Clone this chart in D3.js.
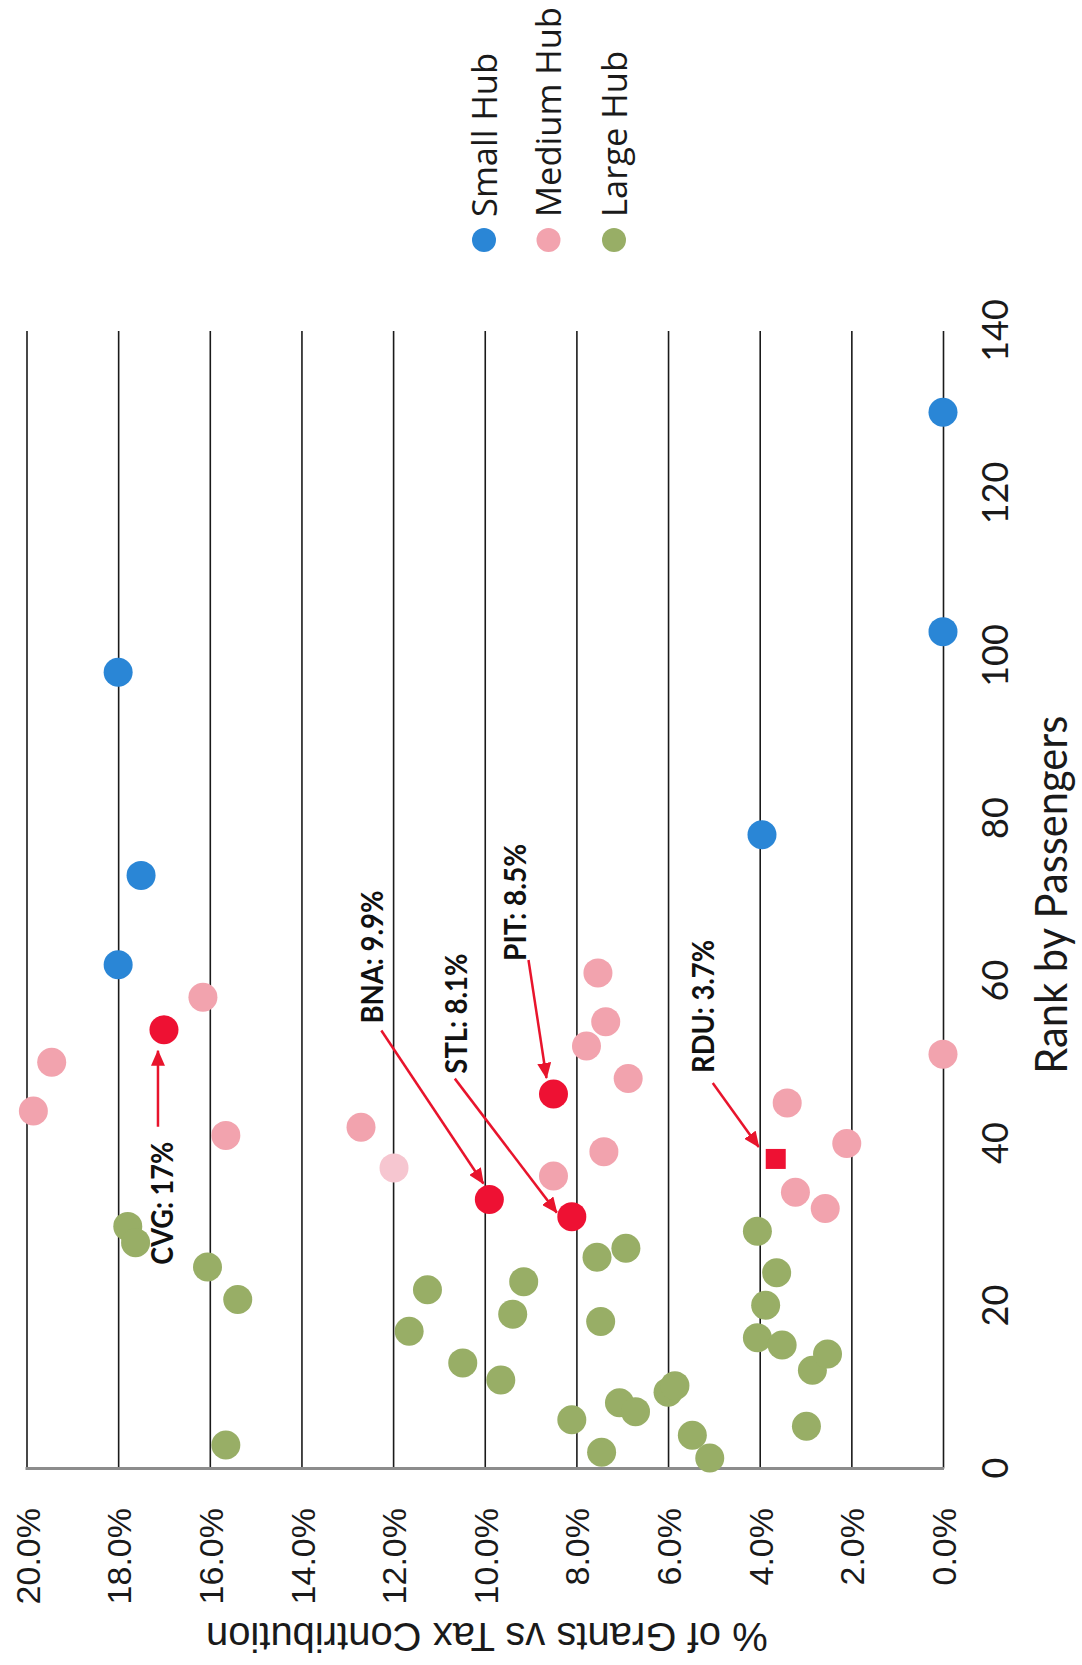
<!DOCTYPE html>
<html>
<script src="https://cdn.jsdelivr.net/npm/d3@7/dist/d3.min.js"></script>
<style>
  body, html {
    padding: 0;
    margin: 0;
    background: #fff;
  }
  svg { display: block; }
</style>
<body>
<svg width="1082" height="1665"></svg>
<script>

  // ---- data: [rank by passengers, % of grants vs tax contribution]

  var smallRank = [98, 73, 62, 78, 103, 130];
  var smallPct  = [18.0, 17.5, 18.0, 3.95, 0.0, 0.0];

  var mediumRank = [44, 50, 58, 41, 42, 36, 61, 55, 52, 48, 39, 45, 34, 32, 40, 51];
  var mediumPct  = [19.85, 19.45, 16.15, 15.65, 12.7, 8.5, 7.53, 7.36, 7.78, 6.87, 7.4, 3.4, 3.22, 2.57, 2.1, 0.0];

  // one medium hub point that prints lighter
  var mediumFadedRank = [37];
  var mediumFadedPct  = [11.98];

  var largeRank = [29.8, 27.8, 24.8, 20.8, 2.9, 16.9, 22.0, 13.0, 10.9, 19.0, 23.0, 6.0, 26.0, 27.1, 18.1,
                   2.0, 8.1, 7.0, 9.4, 10.2, 4.1, 1.3, 29.2, 24.1, 20.1, 16.1, 15.2, 12.1, 14.1, 5.2];
  var largePct  = [17.79, 17.62, 16.05, 15.39, 15.65, 11.65, 11.25, 10.48, 9.65, 9.39, 9.15, 8.1, 7.55, 6.92, 7.47,
                   7.45, 7.06, 6.71, 6.0, 5.85, 5.47, 5.09, 4.05, 3.63, 3.87, 4.05, 3.51, 2.85, 2.52, 2.98];

  var highlightCode  = ['CVG', 'BNA', 'STL', 'PIT', 'RDU'];
  var highlightRank  = [54, 33.1, 31.0, 46.1, 38.1];
  var highlightPct   = [17.0, 9.9, 8.1, 8.5, 3.65];
  var highlightLabel = ['CVG: 17%', 'BNA: 9.9%', 'STL: 8.1%', 'PIT: 8.5%', 'RDU: 3.7%'];
  var squareCodes = ['RDU'];

  var rankTicks = [0, 20, 40, 60, 80, 100, 120, 140];
  var pctTicks  = [0, 2, 4, 6, 8, 10, 12, 14, 16, 18, 20];
  var legendNames = ['Small Hub', 'Medium Hub', 'Large Hub'];

  // ---- layout (the chart is drawn normally and then turned a quarter turn)

  var W = 1665, H = 1082;
  var plot = {left: 196.5, right: 1334, top: 26.5, bottom: 943};
  var R = 14.5;
  var narrow = 'Lato, "Open Sans", sans-serif';

  var colors = {
    small: '#2a86d6',
    medium: '#f2a3ae',
    mediumFaded: '#f6c6d0',
    large: '#98ae66',
    highlight: '#ee1133',
    arrow: '#e8142c'
  };

  // label / arrow offsets from each highlighted point, in chart pixels
  var callout = {
    CVG: {label: [-235, 9], len: 123, from: [-97, -6], to: [-21, -6]},
    BNA: {label: [176, -106], len: 133, from: [169, -108], to: [16, -6]},
    STL: {label: [143, -105], len: 120, from: [138, -117], to: [4, -15]},
    PIT: {label: [133, -27], len: 117, from: [134, -25], to: [16, -7]},
    RDU: {label: [86, -62], len: 133, from: [76, -63], to: [12, -17]}
  };

  var zip = function (xs, ys) { return xs.map(function (d, i) { return {rank: d, pct: ys[i]}; }); };

  var svg = d3.select('svg');
  var g = svg.append('g').attr('transform', 'translate(0,' + W + ') rotate(-90)');

  var x = d3.scaleLinear().domain([0, 140]).range([plot.left, plot.right]);
  var y = d3.scaleLinear().domain([0, 20]).range([plot.bottom, plot.top]);

  var defs = svg.append('defs');
  defs.append('marker')
      .attr('id', 'arrow')
      .attr('markerUnits', 'userSpaceOnUse')
      .attr('viewBox', '0 0 16 14')
      .attr('markerWidth', 16)
      .attr('markerHeight', 14)
      .attr('refX', 15)
      .attr('refY', 7)
      .attr('orient', 'auto')
    .append('path')
      .attr('d', 'M0,0L16,7L0,14Z')
      .attr('fill', colors.arrow);

  // gridlines + percent labels
  var yAxis = g.append('g')
      .attr('transform', 'translate(' + plot.left + ',0)')
      .call(d3.axisLeft(y)
        .tickValues(pctTicks)
        .tickSize(-(plot.right - plot.left))
        .tickPadding(39.5)
        .tickFormat(function (d) { return d.toFixed(1) + '%'; }));

  yAxis.select('.domain').remove();
  yAxis.selectAll('.tick line').attr('stroke', '#1a1a1a').attr('stroke-width', 1.6);
  yAxis.selectAll('.tick text')
      .attr('dy', '0.37em')
      .attr('fill', '#1a1a1a')
      .style('font-family', '"Liberation Sans", Arial, sans-serif')
      .style('font-size', '34px');

  // rank axis
  var xAxis = g.append('g')
      .attr('transform', 'translate(0,' + plot.bottom + ')')
      .call(d3.axisBottom(x).tickValues(rankTicks).tickSize(0));

  xAxis.select('.domain').remove();
  xAxis.selectAll('.tick text')
      .attr('y', 65)
      .attr('dy', 0)
      .attr('fill', '#1a1a1a')
      .style('font-family', narrow)
      .style('font-size', '36px');

  g.append('line')
      .attr('x1', x(0)).attr('x2', x(0))
      .attr('y1', y(20) - 1).attr('y2', y(0) + 1)
      .attr('stroke', '#8c8c8c')
      .attr('stroke-width', 3);

  // axis titles
  g.append('text')
      .attr('x', (plot.left + plot.right) / 2 + 5 - 179)
      .attr('y', 1067)
      .attr('textLength', 358)
      .attr('lengthAdjust', 'spacingAndGlyphs')
      .attr('fill', '#1a1a1a')
      .style('font-family', narrow)
      .style('font-size', '44px')
      .text('Rank by Passengers');

  g.append('text')
      .attr('transform', 'translate(42,' + ((plot.top + plot.bottom) / 2 + 2) + ') rotate(-90)')
      .attr('text-anchor', 'middle')
      .attr('fill', '#1a1a1a')
      .style('font-family', '"Liberation Sans", Arial, sans-serif')
      .style('font-size', '40px')
      .text('% of Grants vs Tax Contribution');

  // points
  function dots(data, color) {
    g.append('g').selectAll('circle').data(data).enter()
      .append('circle')
        .attr('cx', function (d) { return x(d.rank); })
        .attr('cy', function (d) { return y(d.pct); })
        .attr('r', R)
        .attr('fill', color);
  }

  dots(zip(largeRank, largePct), colors.large);
  dots(zip(mediumRank, mediumPct), colors.medium);
  dots(zip(mediumFadedRank, mediumFadedPct), colors.mediumFaded);
  dots(zip(smallRank, smallPct), colors.small);

  var highlights = highlightCode.map(function (c, i) {
    return {code: c, rank: highlightRank[i], pct: highlightPct[i], label: highlightLabel[i]};
  });

  var hl = g.append('g');
  hl.selectAll('circle')
    .data(highlights.filter(function (d) { return squareCodes.indexOf(d.code) < 0; }))
    .enter().append('circle')
      .attr('cx', function (d) { return x(d.rank); })
      .attr('cy', function (d) { return y(d.pct); })
      .attr('r', R)
      .attr('fill', colors.highlight);

  hl.selectAll('rect')
    .data(highlights.filter(function (d) { return squareCodes.indexOf(d.code) >= 0; }))
    .enter().append('rect')
      .attr('x', function (d) { return x(d.rank) - 10; })
      .attr('y', function (d) { return y(d.pct) - 10; })
      .attr('width', 20)
      .attr('height', 20)
      .attr('fill', colors.highlight);

  // callouts
  var co = g.append('g');
  co.selectAll('line').data(highlights).enter()
    .append('line')
      .attr('x1', function (d) { return x(d.rank) + callout[d.code].from[0]; })
      .attr('y1', function (d) { return y(d.pct) + callout[d.code].from[1]; })
      .attr('x2', function (d) { return x(d.rank) + callout[d.code].to[0]; })
      .attr('y2', function (d) { return y(d.pct) + callout[d.code].to[1]; })
      .attr('stroke', colors.arrow)
      .attr('stroke-width', 2.5)
      .attr('marker-end', 'url(#arrow)');

  co.selectAll('text').data(highlights).enter()
    .append('text')
      .attr('x', function (d) { return x(d.rank) + callout[d.code].label[0]; })
      .attr('y', function (d) { return y(d.pct) + callout[d.code].label[1]; })
      .attr('textLength', function (d) { return callout[d.code].len; })
      .attr('lengthAdjust', 'spacingAndGlyphs')
      .attr('fill', '#111')
      .style('font-family', narrow)
      .style('font-weight', 'bold')
      .style('font-size', '30px')
      .text(function (d) { return d.label; });

  // legend
  var legendColors = [colors.small, colors.medium, colors.large];
  var legendPos = [484, 548.5, 614];

  var lg = g.append('g').selectAll('g').data(legendNames).enter()
    .append('g')
      .attr('transform', function (d, i) { return 'translate(1425,' + legendPos[i] + ')'; });

  lg.append('circle')
      .attr('r', 12)
      .attr('fill', function (d, i) { return legendColors[i]; });

  lg.append('text')
      .attr('x', 23)
      .attr('y', 12.5)
      .attr('fill', '#1a1a1a')
      .style('font-family', '"Open Sans", sans-serif')
      .style('font-size', '34.5px')
      .text(function (d) { return d; });

</script>
</body>
</html>
